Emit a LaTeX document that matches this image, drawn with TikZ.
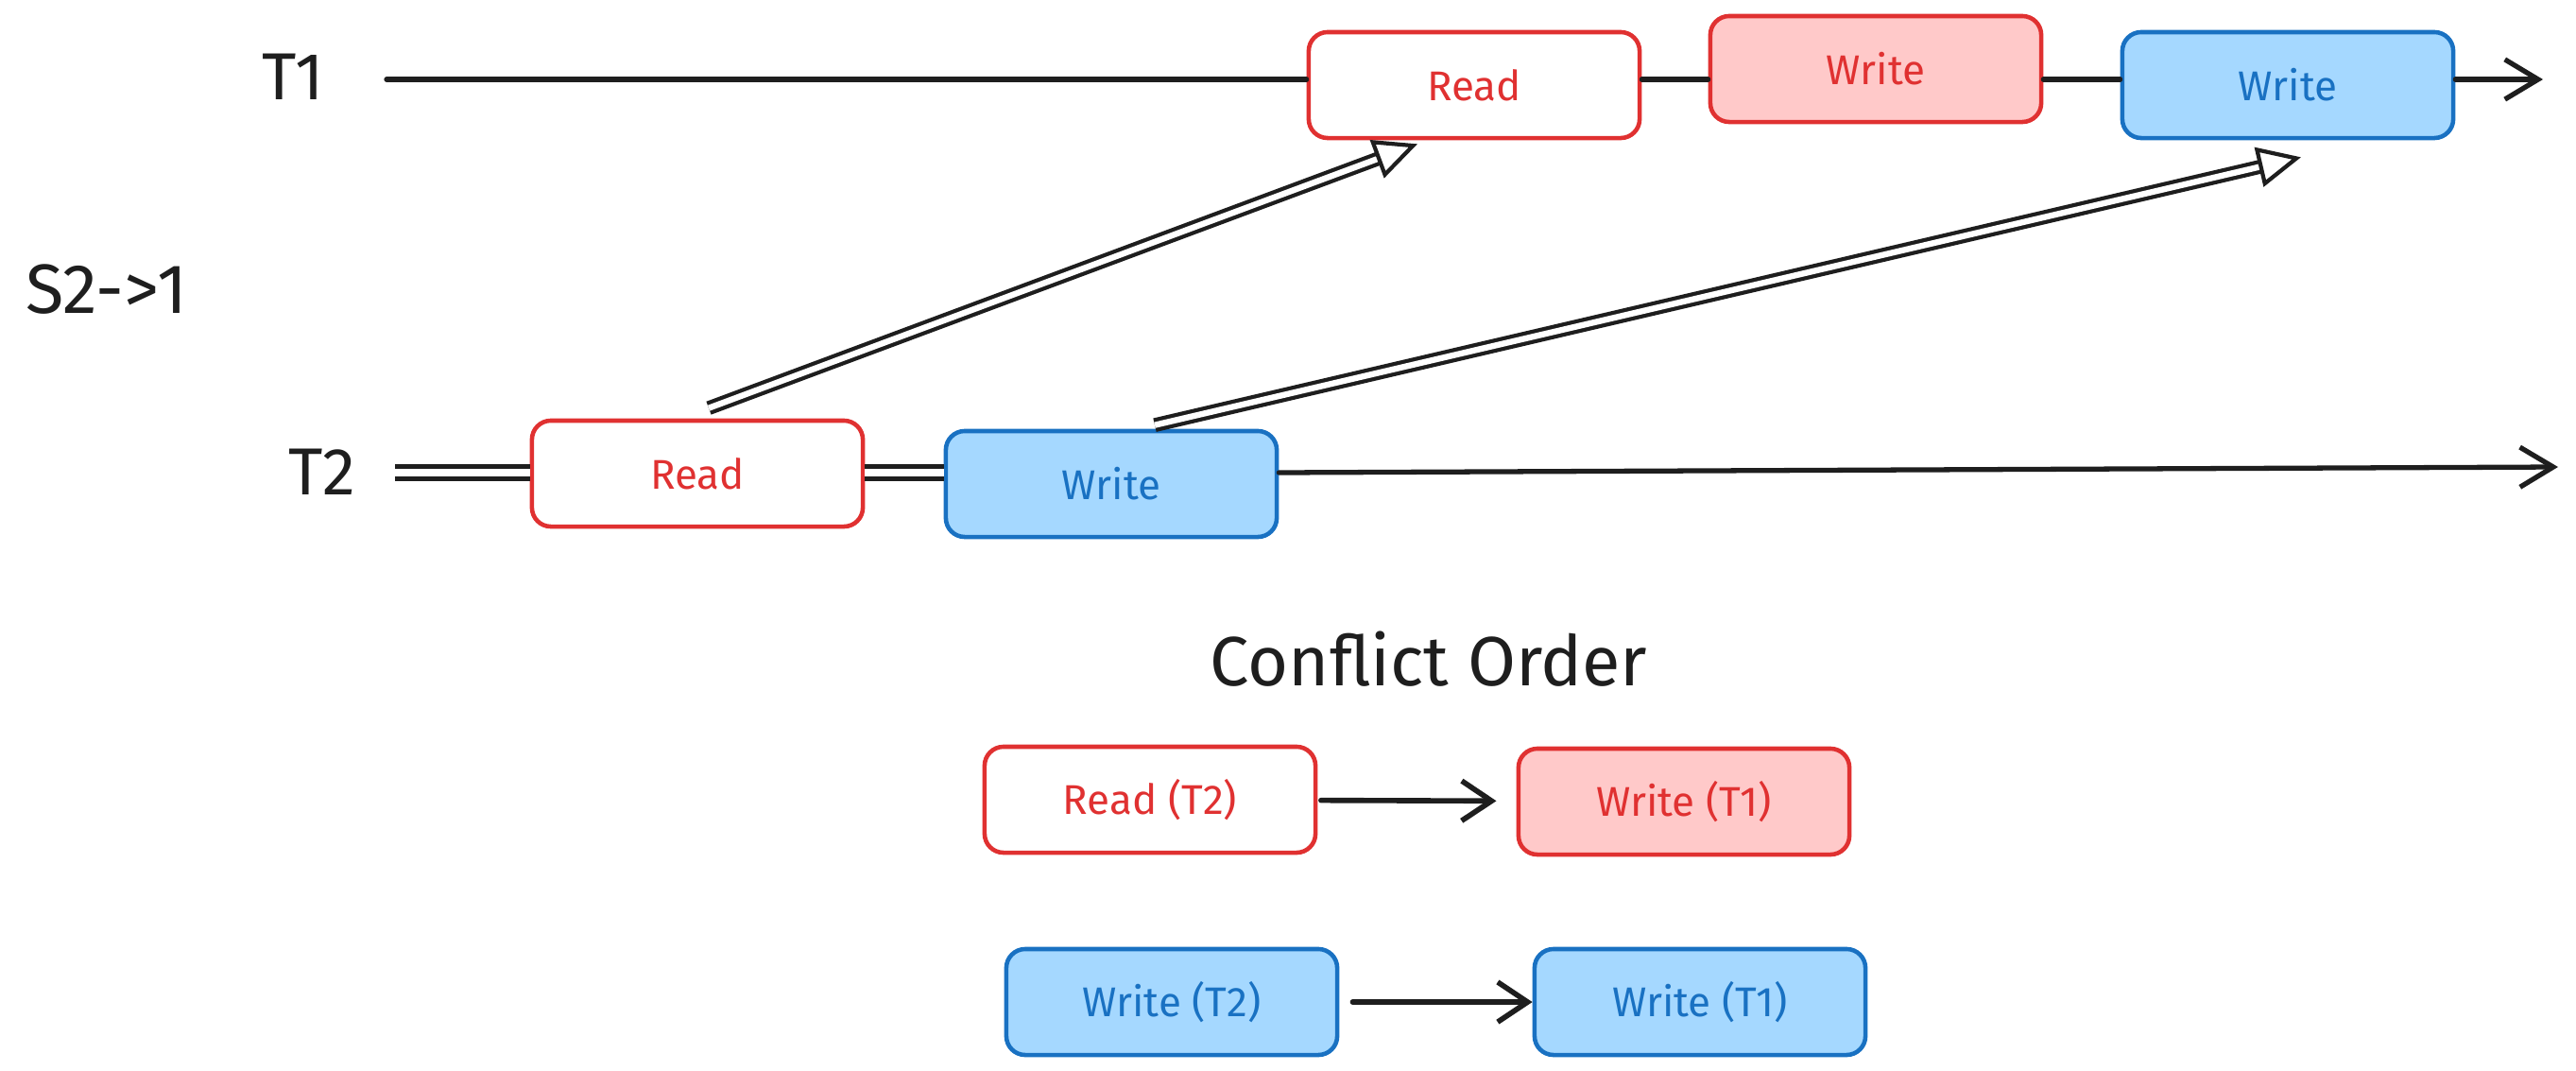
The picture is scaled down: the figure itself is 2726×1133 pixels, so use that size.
\documentclass[tikz,border=0pt]{standalone}
\usepackage{fontspec}
\setmainfont{Fira Sans}
\usetikzlibrary{arrows.meta,calc}
\definecolor{redline}{HTML}{E03131}
\definecolor{redfill}{HTML}{FFC9C9}
\definecolor{blueline}{HTML}{1971C2}
\definecolor{bluefill}{HTML}{A5D8FF}
\definecolor{ink}{HTML}{1E1E1E}

\begin{document}
\begin{tikzpicture}[x=0.01cm,y=-0.01cm,line cap=round,
  box/.style={rectangle,rounded corners=0.2cm,line width=1.3pt,minimum width=3.5cm,minimum height=1.12cm,font=\fontsize{12.5}{15}\selectfont},
  read box/.style={box,draw=redline,fill=white,text=redline},
  red box/.style={box,draw=redline,fill=redfill,text=redline},
  blue box/.style={box,draw=blueline,fill=bluefill,text=blueline},
  big label/.style={text=ink,font=\fontsize{20}{24}\selectfont},
  tline/.style={draw=ink,line width=1.5pt},
  tarrow/.style={tline,-{Straight Barb[length=10pt,width=12pt]}},
  link/.style={draw=ink,line width=1.2pt,line cap=butt,double,double distance=1.8pt,-{Triangle[open,length=13pt,width=12pt]}},
  order/.style={draw=ink,line width=1.6pt,-{Straight Barb[length=9pt,width=12pt]}}]
  \useasboundingbox (0,0) rectangle (2726,1133);

  \node[big label] (t1) at (310,81) {T1};
  \node[big label,font=\fontsize{21}{25}\selectfont] (s21) at (113,306) {S2->1};
  \node[big label] (t2) at (341,499) {T2};

  \node[read box] (r1) at (1560,90) {Read};
  \node[red box] (w1) at (1985,73) {Write};
  \node[blue box] (b1) at (2421,90) {Write};
  \node[read box] (r2) at (738,501) {Read};
  \node[blue box] (b2) at (1176,512) {Write};

  \node[big label,font=\fontsize{21}{25}\selectfont] (co) at (1512,697) {Conflict Order};
  \node[read box] (cr) at (1217,846) {Read (T2)};
  \node[red box] (cw) at (1782,848) {Write (T1)};
  \node[blue box] (cb2) at (1240,1060) {Write (T2)};
  \node[blue box] (cb1) at (1799,1060) {Write (T1)};

  \coordinate (t1s) at (409,84);
  \coordinate (t1e) at (2691,84);
  \coordinate (t2s) at (418,500);
  \coordinate (t2e) at (2707,494);

  % timelines
  \draw[tline] (t1s) -- (t1s -| r1.west)
    (t1s -| r1.east) -- (t1s -| w1.west)
    (t1s -| w1.east) -- (t1s -| b1.west);
  \draw[tarrow] (t1s -| b1.east) -- (t1e);
  \draw[tline,line width=1.4pt,line cap=butt,double,double distance=2.4pt] (t2s) -- (t2s -| r2.west)
    (t2s -| r2.east) -- (t2s -| b2.west);
  \draw[tarrow] (t2s -| b2.east) -- (t2e);

  % conflicts
  \draw[link] ($(r2.north)+(12,-11)$) -- ($(r1.south)+(-60,4)$);
  \draw[link] ($(b2.north)+(46,-4)$) -- ($(b1.south)+(14,18)$);

  \draw[order,shorten <=1pt,shorten >=6pt] (cr) -- (cw);
  \draw[order,shorten <=4pt] (cb2) -- (cb1);
\end{tikzpicture}
\end{document}
